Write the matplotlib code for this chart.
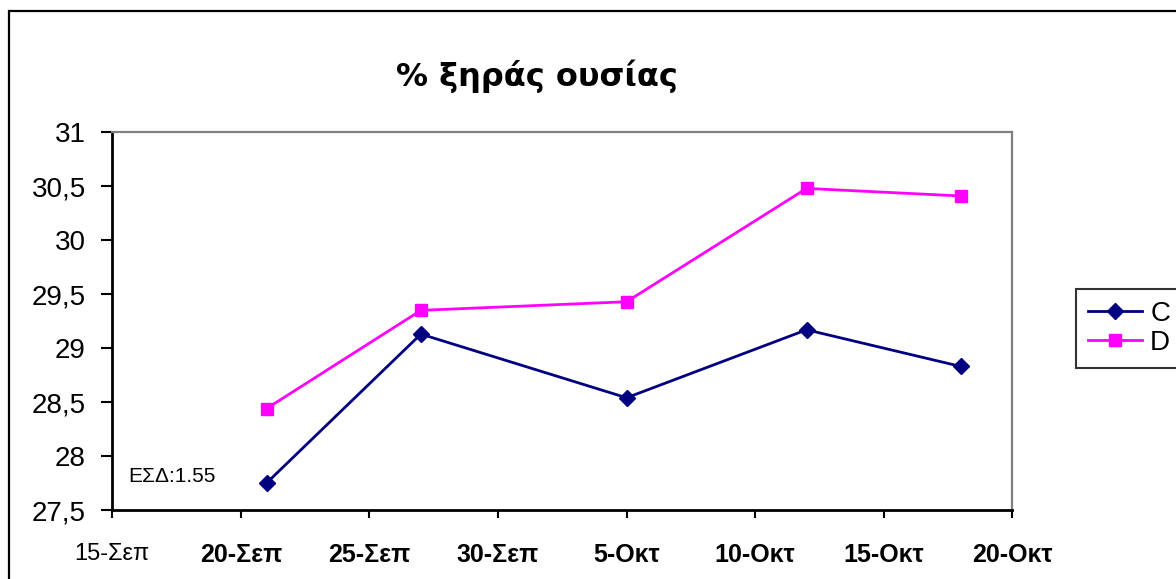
#
# % ξηράς ουσίας  (C / D)
#

import datetime
import matplotlib
matplotlib.use('Agg')
import matplotlib.pyplot as plt
import matplotlib.dates as mdates
import matplotlib.patches as patches

# ---- data ----
dates = ['2008-09-21', '2008-09-27', '2008-10-05', '2008-10-12', '2008-10-18']
c_vals = [27.75, 29.13, 28.54, 29.17, 28.83]
d_vals = [28.44, 29.35, 29.43, 30.48, 30.41]
tick_dates = ['2008-09-15', '2008-09-20', '2008-09-25', '2008-09-30',
              '2008-10-05', '2008-10-10', '2008-10-15', '2008-10-20']
tick_labels = ['15-Σεπ', '20-Σεπ', '25-Σεπ', '30-Σεπ', '5-Οκτ', '10-Οκτ', '15-Οκτ', '20-Οκτ']
y_ticks = [27.5, 28, 28.5, 29, 29.5, 30, 30.5, 31]
note = 'ΕΣΔ:1.55'
title = '% ξηράς ουσίας'


def to_dt(lst):
    return [datetime.datetime.strptime(s, '%Y-%m-%d') for s in lst]


W, H = 1176, 579
fig = plt.figure(figsize=(W / 100, H / 100), dpi=100, facecolor='white')

# 外枠
fig.patches.append(patches.Rectangle((9 / W, -0.05), 1.1, 1.05 - 11 / H,
                                     transform=fig.transFigure, fill=False,
                                     edgecolor='black', linewidth=1.6))

ax = fig.add_axes([112.3 / W, 69 / H, 900 / W, 377.7 / H])

x = to_dt(dates)
ax.plot(x, c_vals, color='#000080', marker='D', markersize=8.5, linewidth=2, label='C')
ax.plot(x, d_vals, color='#FF00FF', marker='s', markersize=8.5, linewidth=2, label='D')

xt = to_dt(tick_dates)
ax.set_xlim(xt[0], xt[-1])
ax.set_ylim(27.5, 31)
ax.set_xticks(xt)
ax.set_xticklabels(tick_labels)
ax.set_yticks(y_ticks)
ax.yaxis.set_major_formatter(plt.FuncFormatter(lambda y, loc: ('%g' % y).replace('.', ',')))

for s in ['left', 'bottom']:
    ax.spines[s].set_color('black')
    ax.spines[s].set_linewidth(2)
for s in ['top', 'right']:
    ax.spines[s].set_color('#808080')
    ax.spines[s].set_linewidth(1.6)

ax.tick_params(axis='y', direction='out', length=8, width=1.5, pad=11,
               labelsize=20)
ax.tick_params(axis='x', direction='out', length=6, width=1.5, pad=18,
               labelsize=18)
for lb in ax.get_yticklabels():
    lb.set_family(['Liberation Sans', 'DejaVu Sans'])
for i, lb in enumerate(ax.get_xticklabels()):
    if i == 0:
        lb.set_family(['Liberation Sans', 'DejaVu Sans'])
        lb.set_fontsize(17)
        lb.set_fontweight('normal')
    else:
        lb.set_family(['Liberation Sans Narrow', 'Liberation Sans', 'DejaVu Sans'])
        lb.set_fontweight('bold')

ax.text(0.0174, 0.074, note, transform=ax.transAxes, va='baseline', ha='left',
        fontsize=15, family=['Liberation Sans', 'DejaVu Sans'])

fig.text(537 / W, (H - 86) / H, title, ha='center', va='baseline',
         fontsize=23, fontweight='bold', family=['DejaVu Sans'])

leg = fig.legend(loc='upper left', bbox_to_anchor=(1076 / W, (H - 289) / H),
                 prop={'family': ['Liberation Sans', 'DejaVu Sans'], 'size': 20},
                 frameon=True, fancybox=False, shadow=False, borderaxespad=0,
                 handlelength=1.95, handletextpad=0.3, borderpad=0.42,
                 labelspacing=0.12)
leg.get_frame().set_edgecolor('black')
leg.get_frame().set_linewidth(1.5)

fig.savefig('out.png', dpi=100, facecolor='white')
